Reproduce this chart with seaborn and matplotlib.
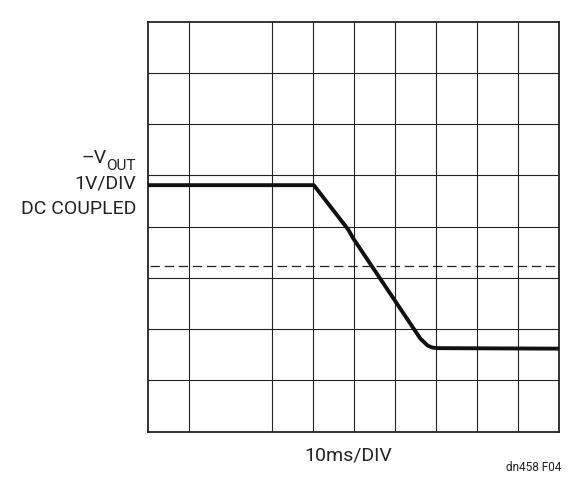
import matplotlib
matplotlib.use('Agg')
import matplotlib.pyplot as plt
import seaborn as sns
import pandas as pd

# trace (x in time divisions, y in volt divisions)
time_div = [0.0, 4.03, 4.87, 4.99, 6.62, 6.80, 6.92, 7.05, 10.0]
vout_div = [4.81, 4.81, 3.94, 3.77, 1.82, 1.68, 1.64, 1.63, 1.62]
ref_level = 3.23
x_grid = [1, 3, 4, 5, 6, 7, 8, 9]
y_grid = [1, 2, 3, 4, 5, 6, 7]

sns.set_style('white')
plt.rcParams['font.family'] = ['Roboto', 'DejaVu Sans']

fig = plt.figure(figsize=(5.81, 4.87), dpi=100)
ax = fig.add_axes([0.2553, 0.1136, 0.7069, 0.8419])

df = pd.DataFrame({'t': time_div, 'v': vout_div})
sns.lineplot(data=df, x='t', y='v', ax=ax, color='#111111', linewidth=2.8,
             sort=False, solid_joinstyle='round', zorder=5)
ax.plot([0.05, 9.9], [ref_level, ref_level], color='#222222', lw=0.9,
        linestyle=(0, (7.5, 3.8)), zorder=3)

ax.set_xlim(0, 10)
ax.set_ylim(0, 8)
ax.set_xticks(x_grid)
ax.set_yticks(y_grid)
ax.grid(True, color='#222222', linewidth=0.8)
ax.tick_params(length=0, labelbottom=False, labelleft=False)
ax.set_xlabel('')
ax.set_ylabel('')
for s in ax.spines.values():
    s.set_color('#222222')
    s.set_linewidth(1.3)

# channel label
out_txt = fig.text(136 / 581, 1 - 170 / 487, 'OUT', ha='right', va='baseline',
                   fontsize=11, color='#222222')
fig.canvas.draw()
ax.annotate('–V', xy=(0, 0.45), xycoords=out_txt, ha='right', va='bottom',
            fontsize=14, color='#222222')
fig.text(136 / 581, 1 - 184 / 487, '1V/DIV', ha='right', va='center',
         fontsize=14, color='#222222')
fig.text(136 / 581, 1 - 208.5 / 487, 'DC COUPLED', ha='right', va='center',
         fontsize=14, color='#222222')

fig.text(348 / 581, 1 - 455 / 487, '10ms/DIV', ha='center', va='center',
         fontsize=14, color='#222222')
fig.text(561 / 581, 1 - 467.7 / 487, 'dn458 F04', ha='right', va='center',
         fontsize=8.5, color='#222222')

fig.savefig('out.png', dpi=100)
